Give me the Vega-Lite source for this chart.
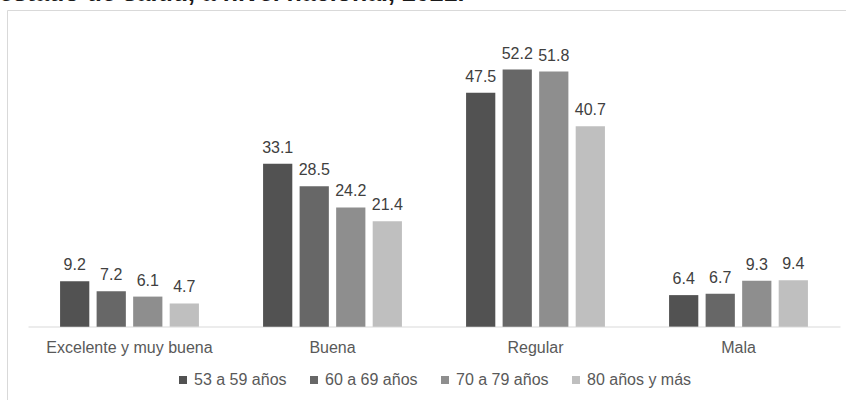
{
  "$schema": "https://vega.github.io/schema/vega-lite/v6.json",
  "autosize": {"type": "none"},
  "padding": {"left": 7, "top": 10, "right": 0, "bottom": 0},
  "width": 839,
  "height": 390,
  "background": "white",
  "title": {
    "text": "estado de salud, a nivel nacional, 2021.",
    "anchor": "start",
    "frame": "group",
    "baseline": "alphabetic",
    "offset": 0,
    "dx": -8,
    "dy": 16,
    "fontSize": 25,
    "fontWeight": "bold",
    "font": "Liberation Sans",
    "color": "#1a1a1a"
  },
  "config": {
    "view": {"stroke": "#d9d9d9", "strokeWidth": 1},
    "font": "Liberation Sans"
  },
  "data": {
    "values": [
      {"estado": "Excelente y muy buena", "edad": "53 a 59 años", "valor": 9.2},
      {"estado": "Excelente y muy buena", "edad": "60 a 69 años", "valor": 7.2},
      {"estado": "Excelente y muy buena", "edad": "70 a 79 años", "valor": 6.1},
      {"estado": "Excelente y muy buena", "edad": "80 años y más", "valor": 4.7},
      {"estado": "Buena", "edad": "53 a 59 años", "valor": 33.1},
      {"estado": "Buena", "edad": "60 a 69 años", "valor": 28.5},
      {"estado": "Buena", "edad": "70 a 79 años", "valor": 24.2},
      {"estado": "Buena", "edad": "80 años y más", "valor": 21.4},
      {"estado": "Regular", "edad": "53 a 59 años", "valor": 47.5},
      {"estado": "Regular", "edad": "60 a 69 años", "valor": 52.2},
      {"estado": "Regular", "edad": "70 a 79 años", "valor": 51.8},
      {"estado": "Regular", "edad": "80 años y más", "valor": 40.7},
      {"estado": "Mala", "edad": "53 a 59 años", "valor": 6.4},
      {"estado": "Mala", "edad": "60 a 69 años", "valor": 6.7},
      {"estado": "Mala", "edad": "70 a 79 años", "valor": 9.3},
      {"estado": "Mala", "edad": "80 años y más", "valor": 9.4}
    ]
  },
  "encoding": {
    "x": {
      "field": "estado",
      "type": "nominal",
      "sort": ["Excelente y muy buena", "Buena", "Regular", "Mala"],
      "scale": {"range": [21, 833], "paddingInner": 0.28, "paddingOuter": 0.14},
      "axis": {
        "title": null,
        "labelAngle": 0,
        "offset": -73.5,
        "ticks": false,
        "tickSize": 0,
        "labelPadding": 13,
        "domainColor": "#d9d9d9",
        "domainWidth": 1,
        "labelFontSize": 16,
        "labelColor": "#595959",
        "labelFont": "Liberation Sans"
      }
    },
    "xOffset": {
      "field": "edad",
      "type": "nominal",
      "sort": ["53 a 59 años", "60 a 69 años", "70 a 79 años", "80 años y más"],
      "scale": {"paddingInner": 0.2, "paddingOuter": 0.1}
    },
    "y": {
      "field": "valor",
      "type": "quantitative",
      "scale": {"domain": [-14.9, 64.3], "nice": false, "zero": false},
      "axis": null
    }
  },
  "layer": [
    {
      "mark": {"type": "bar"},
      "encoding": {
        "y2": {"datum": 0},
        "color": {
          "field": "edad",
          "type": "nominal",
          "sort": ["53 a 59 años", "60 a 69 años", "70 a 79 años", "80 años y más"],
          "scale": {"range": ["#525252", "#676767", "#8e8e8e", "#bfbfbf"]},
          "legend": {
            "title": null,
            "orient": "none",
            "direction": "horizontal",
            "legendX": 168,
            "legendY": 362,
            "symbolType": "square",
            "symbolSize": 64,
            "symbolStrokeWidth": 0,
            "labelFontSize": 16,
            "labelColor": "#595959",
            "labelFont": "Liberation Sans",
            "labelOffset": 3,
            "columnPadding": 19
          }
        }
      }
    },
    {
      "mark": {"type": "text", "baseline": "alphabetic", "dy": -11, "fontSize": 16, "color": "#404040", "font": "Liberation Sans"},
      "encoding": {
        "text": {"field": "valor", "type": "quantitative", "format": ".1f"}
      }
    }
  ]
}
